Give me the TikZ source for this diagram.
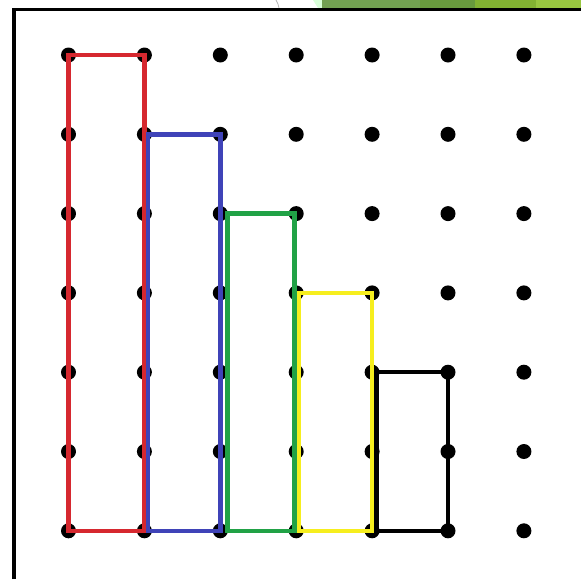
\documentclass[tikz,border=0pt]{standalone}
\usepackage{tikz}
\usetikzlibrary{calc}

\definecolor{bandred}{HTML}{D6282F}
\definecolor{bandblue}{HTML}{3F43B8}
\definecolor{bandgreen}{HTML}{21A246}
\definecolor{bandyellow}{HTML}{F6EE1E}
\definecolor{leafA}{HTML}{72A052}
\definecolor{leafB}{HTML}{689A3E}
\definecolor{leafC}{HTML}{82B232}
\definecolor{leafD}{HTML}{98C640}

\begin{document}
\begin{tikzpicture}[
    x=0.02cm, y=-0.02cm,
    peg/.style={circle, fill=black, inner sep=0pt, minimum size=0.3cm},
    band/.style={line width=0.09cm, line join=miter},
    frameline/.style={line width=0.075cm, draw=black}
]
\useasboundingbox (0,0) rectangle (581,579);
\fill[white] (0,0) rectangle (581,579);

% Slide decoration at the top
\fill[green!15!white] (313,0) -- (324,0) -- (324,8) -- (318,8) -- cycle;
\fill[leafA] (322,0) rectangle (420,8);
\fill[leafB] (420,0) rectangle (475,8);
\fill[leafC] (475,0) rectangle (536,8);
\fill[leafD] (536,0) rectangle (581,8);
\draw[gray!60, thin] (276,0) to[bend left=10] (279,8);

% Board frame
\draw[frameline] (14,579) -- (14,9.5) -- (581,9.5);

% Pegs
\foreach \i in {0,...,6}
  \foreach \j in {0,...,6}
    \node[peg] (d-\i-\j) at ({68.5+75.9*\i},{55+79.3*\j}) {};

% Rubber bands
\draw[band, bandred] (d-0-0.center) rectangle (d-1-6.center);
\draw[band, bandblue] ([xshift=2pt]d-1-1.center) rectangle (d-2-6.center);
\draw[band, bandgreen] ([xshift=4pt]d-2-2.center) rectangle ([xshift=-1pt]d-3-6.center);
\draw[band, bandyellow] ([xshift=1.5pt]d-3-3.center) rectangle (d-4-6.center);
\draw[band, black] ([xshift=2.5pt]d-4-4.center) rectangle (d-5-6.center);

\end{tikzpicture}
\end{document}
